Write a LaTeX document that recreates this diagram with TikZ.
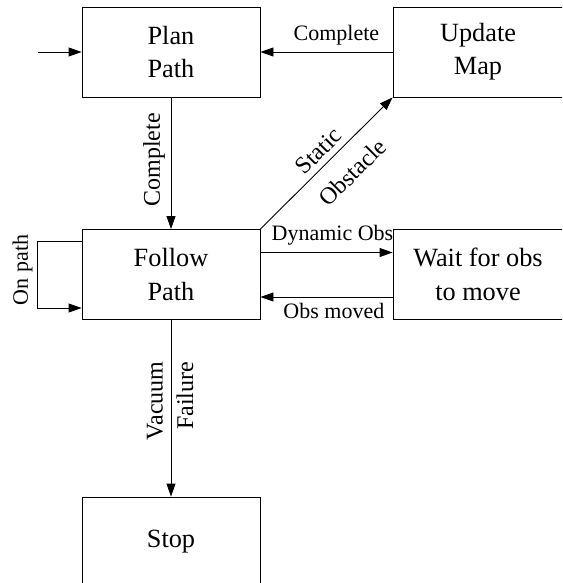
\documentclass[tikz,border=0pt]{standalone}
\usepackage{fontspec}
\setmainfont{Liberation Serif}
\usetikzlibrary{arrows.meta,calc}
\begin{document}
\begin{tikzpicture}[x=1pt,y=-1pt,
  box/.style={draw, line width=0.9pt, minimum width=178pt, minimum height=90pt, inner sep=0pt, align=center, font=\fontsize{26.3}{33.3}\selectfont},
  widebox/.style={box, minimum width=170pt},
  lab/.style={font=\fontsize{22}{26}\selectfont, inner sep=0pt},
  rlab/.style={font=\fontsize{24}{28}\selectfont, inner sep=0pt},
  arr/.style={line width=0.9pt, -{Triangle[length=13pt,width=9pt]}},
]
\clip (0,0) rectangle (562,583);
\useasboundingbox (0,0) rectangle (562,583);
\fill[white] (0,0) rectangle (562,583);

\node[box] (plan) at (171,52) {Plan\\Path};
\node[widebox] (update) at (478,52) {Update\\Map};
\node[box] (follow) at (171,274.5) {Follow\\Path};
\node[widebox] (wait) at (478,274.5) {Wait for obs\\to move};
\node[box] (stop) at (171,542) {Stop};

\coordinate (in) at (38,52);
\draw[arr] (in) -- (plan.west);

\draw[arr] (update.west) -- node[lab, pos=0.425, above=6pt] (lcomp1) {Complete} (plan.east);

\draw[arr] (plan.south) -- (follow.north);
\node[rlab, rotate=90] (lcomp2) at (154,160) {Complete};

\draw[arr] (follow.north east) -- (update.south west);
\node[rlab, rotate=45] (lstatic) at (318.5,151) {Static};
\node[rlab, rotate=45] (lobst) at (352.5,172.5) {Obstacle};

\draw[arr] ([yshift=22pt]follow.east) -- node[lab, pos=0.545, above=7pt] (ldyn) {Dynamic Obs} ([yshift=22pt]wait.west);
\draw[arr] ([yshift=-22.5pt]wait.west) -- node[lab, pos=0.444, below=6pt] (lmoved) {Obs moved} ([yshift=-22.5pt]follow.west -| follow.east);

\draw[arr] ([yshift=33.5pt]follow.west) -- ++(-44,0) |- ([yshift=-33.5pt]follow.west);
\node[lab, rotate=90] (lonpath) at (22.5,270) {On path};

\draw[arr] (follow.south) -- (stop.north);
\node[rlab, rotate=90] (lvac) at (155,401) {Vacuum};
\node[rlab, rotate=90] (lfail) at (185,396) {Failure};
\end{tikzpicture}
\end{document}
